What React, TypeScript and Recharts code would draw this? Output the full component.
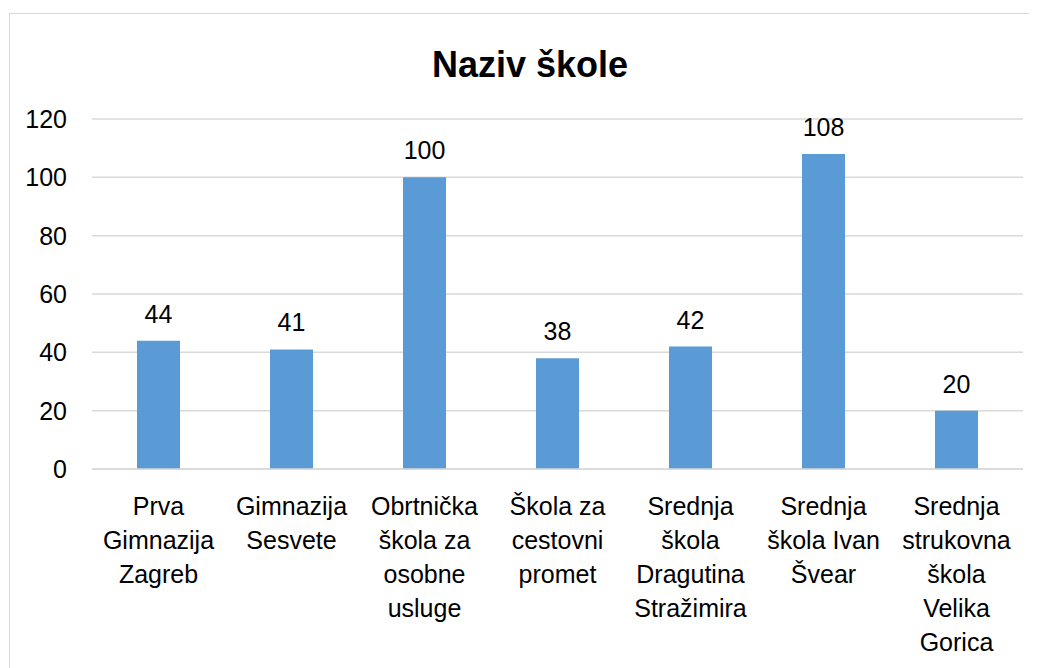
import React from 'react';
import { BarChart, Bar, XAxis, YAxis, CartesianGrid, LabelList } from 'recharts';

const categories = [
  'Prva\nGimnazija\nZagreb',
  'Gimnazija\nSesvete',
  'Obrtnička\nškola za\nosobne\nusluge',
  'Škola za\ncestovni\npromet',
  'Srednja\nškola\nDragutina\nStražimira',
  'Srednja\nškola Ivan\nŠvear',
  'Srednja\nstrukovna\nškola\nVelika\nGorica',
];
const values = [44, 41, 100, 38, 42, 108, 20];
const yTicks = [0, 20, 40, 60, 80, 100, 120];

const data = categories.map((name, i) => ({ name, value: values[i] }));

const FONT = '"Liberation Sans", Arial, sans-serif';

function MultiLineTick(props: any) {
  const { x, y, payload } = props;
  const lines: string[] = String(payload.value).split('\n');
  return (
    <g>
      {lines.map((line, i) => (
        <text
          key={i}
          x={x}
          y={y + 46 + i * 34}
          textAnchor="middle"
          fill="#000"
          fontSize={25}
          fontFamily={FONT}
        >
          {line}
        </text>
      ))}
    </g>
  );
}

export default function App() {
  return (
    <div style={{ position: 'relative', width: 1029, height: 660 }}>
      <div
        style={{
          position: 'absolute',
          left: 1,
          top: 5,
          width: 1040,
          height: 680,
          border: '1px solid #D9D9D9',
          background: '#fff',
        }}
      >
        <div
          style={{
            position: 'absolute',
            left: 0,
            top: 33,
            width: 1042,
            textAlign: 'center',
            fontFamily: FONT,
            fontWeight: 'bold',
            fontSize: 36,
            lineHeight: '36px',
            color: '#000',
          }}
        >
          <span style={{ position: 'relative', left: -1 }}>Naziv škole</span>
        </div>
        <div style={{ position: 'absolute', left: 0, top: 0 }}>
          <BarChart
            width={1030}
            height={660}
            data={data}
            margin={{ top: 105, right: 17, left: 22, bottom: 15 }}
          >
            <CartesianGrid vertical={false} stroke="#D9D9D9" strokeWidth={1.5} />
            <XAxis
              dataKey="name"
              axisLine={{ stroke: '#D9D9D9', strokeWidth: 1.5 }}
              tickLine={false}
              tickSize={0}
              tickMargin={0}
              interval={0}
              height={190}
              tick={<MultiLineTick />}
            />
            <YAxis
              domain={[0, 120]}
              ticks={yTicks}
              axisLine={false}
              tickLine={false}
              tickSize={0}
              tickMargin={25}
              width={60}
              tick={{ fill: '#000', fontSize: 25, fontFamily: FONT }}
            />
            <Bar dataKey="value" fill="#5B9BD5" barSize={43} isAnimationActive={false}>
              <LabelList
                dataKey="value"
                position="top"
                offset={18}
                fill="#000"
                fontSize={25}
                fontFamily={FONT}
              />
            </Bar>
          </BarChart>
        </div>
      </div>
    </div>
  );
}
